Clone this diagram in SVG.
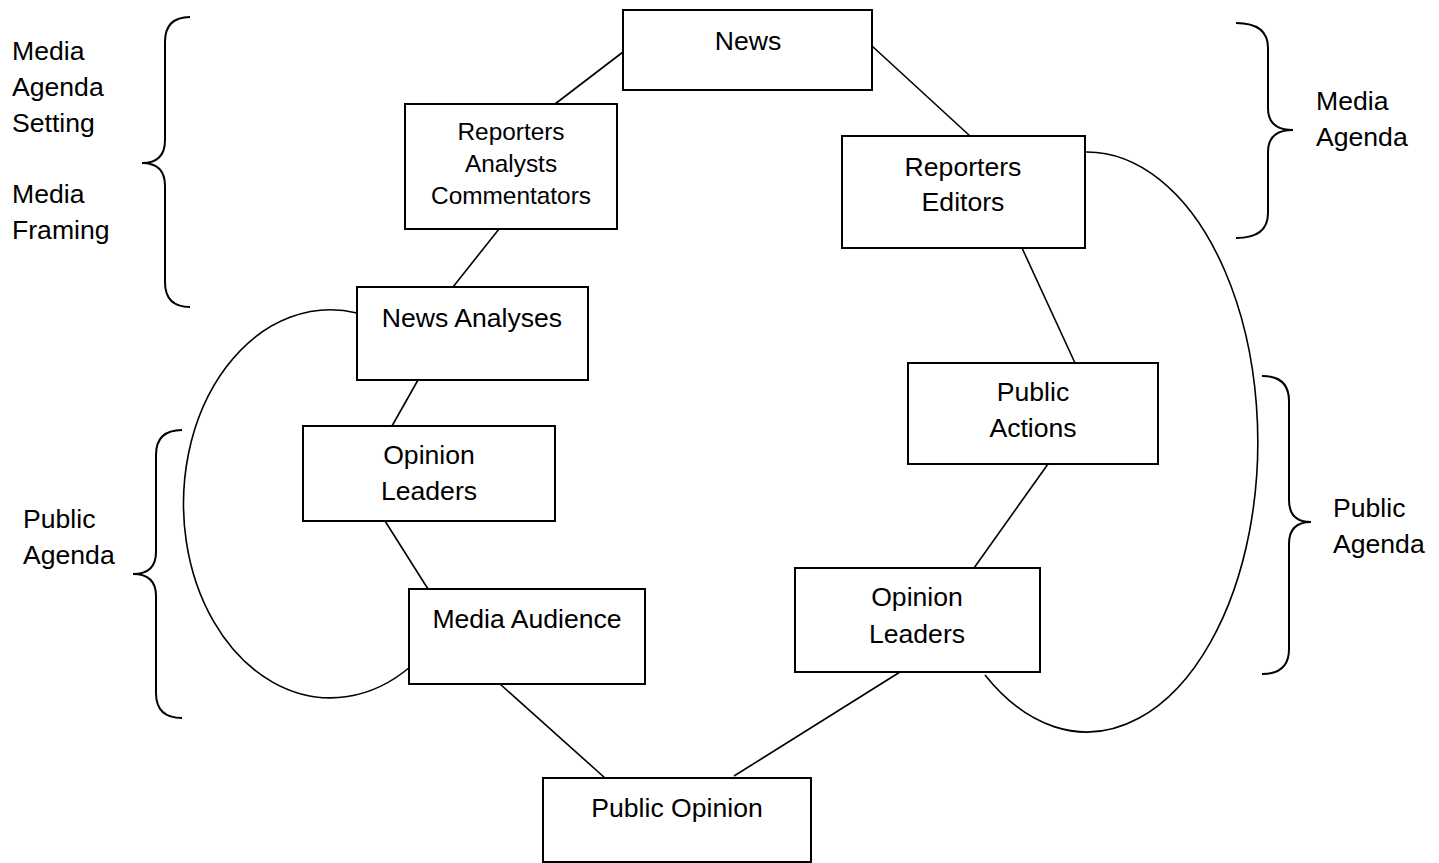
<svg xmlns="http://www.w3.org/2000/svg" width="1439" height="863" viewBox="0 0 1439 863">
<style>
.box{fill:#fff;stroke:#000;stroke-width:2}
.ln{fill:none;stroke:#000;stroke-width:1.6}
.br{fill:none;stroke:#000;stroke-width:2}
text{font-family:"Liberation Sans",Arial,sans-serif;font-size:26.6px;fill:#000}
.c{text-anchor:middle}
.s{font-size:24.4px}
</style>
<rect width="1439" height="863" fill="#fff"/>
<g id="connectors">
<line class="ln" x1="623" y1="52" x2="555" y2="104"/>
<line class="ln" x1="872" y1="46" x2="970" y2="136"/>
<line class="ln" x1="499" y1="229" x2="453" y2="287"/>
<line class="ln" x1="418" y1="380" x2="392" y2="426"/>
<line class="ln" x1="385" y1="521" x2="428" y2="589"/>
<line class="ln" x1="500" y1="684" x2="605" y2="778"/>
<line class="ln" x1="1022" y1="248" x2="1075" y2="363"/>
<line class="ln" x1="1048" y1="464" x2="974" y2="568"/>
<line class="ln" x1="900" y1="672" x2="734" y2="776"/>
<path class="ln" d="M 357 313 A 147 194 0 1 0 410 667"/>
<path class="ln" d="M 1086 152 A 171 290 0 1 1 985 675"/>
</g>
<g id="brace-media-agenda-setting">
<path class="br" d="M 190 17 Q 165 17 165 42 L 165 140 Q 165 163 142 163 Q 165 163 165 186 L 165 282 Q 165 307 190 307"/>
<text x="12" y="60">Media</text>
<text x="12" y="96">Agenda</text>
<text x="12" y="132">Setting</text>
<text x="12" y="203">Media</text>
<text x="12" y="239">Framing</text>
</g>
<g id="brace-public-agenda-left">
<path class="br" d="M 182 430 Q 156 430 156 455 L 156 552 Q 156 574 133 574 Q 156 574 156 596 L 156 693 Q 156 718 182 718"/>
<text x="23" y="528">Public</text>
<text x="23" y="564">Agenda</text>
</g>
<g id="brace-media-agenda-right">
<path class="br" d="M 1236 23 Q 1268 23 1268 48 L 1268 108 Q 1268 130 1293 130 Q 1268 130 1268 152 L 1268 213 Q 1268 238 1236 238"/>
<text x="1316" y="110">Media</text>
<text x="1316" y="146">Agenda</text>
</g>
<g id="brace-public-agenda-right">
<path class="br" d="M 1262 376 Q 1289 376 1289 401 L 1289 500 Q 1289 522 1311 522 Q 1289 522 1289 544 L 1289 649 Q 1289 674 1262 674"/>
<text x="1333" y="517">Public</text>
<text x="1333" y="553">Agenda</text>
</g>
<g id="news">
<rect class="box" x="623" y="10" width="249" height="80"/>
<text class="c" x="748" y="50">News</text>
</g>
<g id="reporters-analysts-commentators">
<rect class="box" x="405" y="104" width="212" height="125"/>
<text class="c s" x="511" y="140">Reporters</text>
<text class="c s" x="511" y="172">Analysts</text>
<text class="c s" x="511" y="204">Commentators</text>
</g>
<g id="reporters-editors">
<rect class="box" x="842" y="136" width="243" height="112"/>
<text class="c" x="963" y="176">Reporters</text>
<text class="c" x="963" y="211">Editors</text>
</g>
<g id="news-analyses">
<rect class="box" x="357" y="287" width="231" height="93"/>
<text class="c" x="472" y="327">News Analyses</text>
</g>
<g id="opinion-leaders-left">
<rect class="box" x="303" y="426" width="252" height="95"/>
<text class="c" x="429" y="464">Opinion</text>
<text class="c" x="429" y="500">Leaders</text>
</g>
<g id="media-audience">
<rect class="box" x="409" y="589" width="236" height="95"/>
<text class="c" x="527" y="628">Media Audience</text>
</g>
<g id="public-actions">
<rect class="box" x="908" y="363" width="250" height="101"/>
<text class="c" x="1033" y="401">Public</text>
<text class="c" x="1033" y="437">Actions</text>
</g>
<g id="opinion-leaders-right">
<rect class="box" x="795" y="568" width="245" height="104"/>
<text class="c" x="917" y="606">Opinion</text>
<text class="c" x="917" y="643">Leaders</text>
</g>
<g id="public-opinion">
<rect class="box" x="543" y="778" width="268" height="84"/>
<text class="c" x="677" y="817">Public Opinion</text>
</g>
</svg>
